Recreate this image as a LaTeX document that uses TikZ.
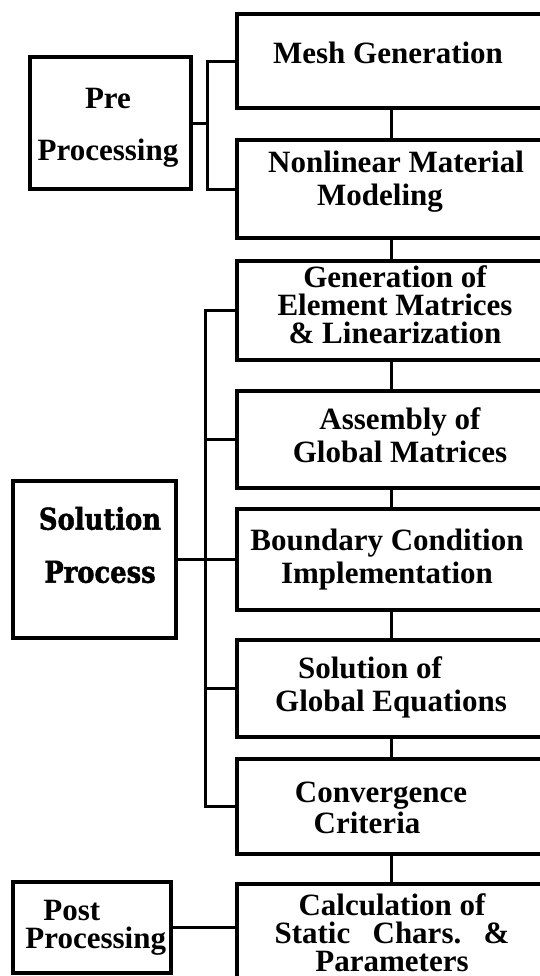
\documentclass[tikz,border=0pt]{standalone}
\usepackage{fontspec}
\setmainfont{Liberation Serif}
\newfontfamily\heavyfont{DejaVu Serif}[FakeStretch=0.86, BoldFeatures={FakeBold=1.5}]
\usepackage{tikz}
\usetikzlibrary{positioning}

\begin{document}
\begin{tikzpicture}[
  x=0.5pt, y=-0.5pt,
  box/.style={draw, line width=1.6pt, minimum width=154pt, inner sep=0pt},
  side/.style={draw, line width=1.6pt, inner sep=0pt},
  lbl/.style={font=\fontsize{15.5}{16.5}\selectfont\bfseries, align=center, inner sep=0pt},
  tight/.style={lbl, font=\fontsize{15.5}{14}\selectfont\bfseries},
  link/.style={line width=1.5pt}]

\useasboundingbox (0,0) rectangle (540,976);

% process steps (right column)
\node[box, minimum height=47pt]   (mesh)   at (391,61)    {};
\node[box, minimum height=49pt]   (nonlin) at (391,189)   {};
\node[box, minimum height=49.5pt] (gen)    at (391,310.5) {};
\node[box, minimum height=48.5pt] (asm)    at (391,439.5) {};
\node[box, minimum height=50.5pt] (bc)     at (391,559.5) {};
\node[box, minimum height=48.5pt] (sol)    at (391,688.5) {};
\node[box, minimum height=47.5pt] (conv)   at (391,806.5) {};
\node[box, minimum height=48pt]   (calc)   at (391,932)   {};

\node[lbl]   (meshtxt)   at (388,53)  {Mesh Generation};
\node[lbl]   (nonlintxt) at (396,182) {Nonlinear Material\\Modeling\hspace*{16pt}};
\node[tight] (gentxt)    at (395,305) {Generation of\\Element Matrices\\\& Linearization};
\node[lbl]   (asmtxt)    at (400,435) {Assembly of\\Global Matrices};
\node[lbl]   (bctxt)     at (387,560) {Boundary Condition\\Implementation};
\node[lbl]   (soltxt)    at (391,687) {Solution of\hspace*{21pt}\\Global Equations};
\node[tight] (convtxt)   at (381,808) {Convergence\\Criteria\hspace*{14pt}};
\node[tight] (calctxt)   at (392,933) {Calculation of\\Static\hspace{0.72em}Chars.\hspace{0.72em}\&\\Parameters};

% phases (left column)
\node[side, minimum width=80.5pt, minimum height=66pt]   (pre)     at (110.5,123)   {};
\node[side, minimum width=81.5pt, minimum height=78.5pt] (solproc) at (94.5,559.5)  {};
\node[side, minimum width=79pt,   minimum height=45.5pt] (post)    at (92,927.5)    {};

\node[lbl, font=\fontsize{15.5}{26}\selectfont\bfseries] (pretxt) at (108,128) {Pre\\Processing};
\node[lbl, font=\fontsize{15}{26.5}\selectfont\heavyfont\bfseries] (solproctxt) at (100,545) {Solution\\Process};
\node[tight, align=left, anchor=west] (posttxt) at (25,928) {\hspace*{9pt}Post\\Processing};

\coordinate (prebus) at (207,0);
\coordinate (solbus) at (205,0);

% chain of steps
\foreach \a/\b in {mesh/nonlin, nonlin/gen, gen/asm, asm/bc, bc/sol, sol/conv, conv/calc}
  \draw[link] (\a.south) -- (\b.north);

% brackets
\draw[link] (mesh.west) -| (prebus |- nonlin.west) -- (nonlin.west);
\draw[link] (pre.east) -- (pre.east -| prebus);
\draw[link] (gen.west) -| (solbus |- conv.west) -- (conv.west);
\foreach \s in {asm, sol}
  \draw[link] (\s.west) -- (\s.west -| solbus);
\draw[link] (solproc.east) -- (bc.west);
\draw[link] (post.east) -- (post.east -| calc.west);
\end{tikzpicture}
\end{document}
